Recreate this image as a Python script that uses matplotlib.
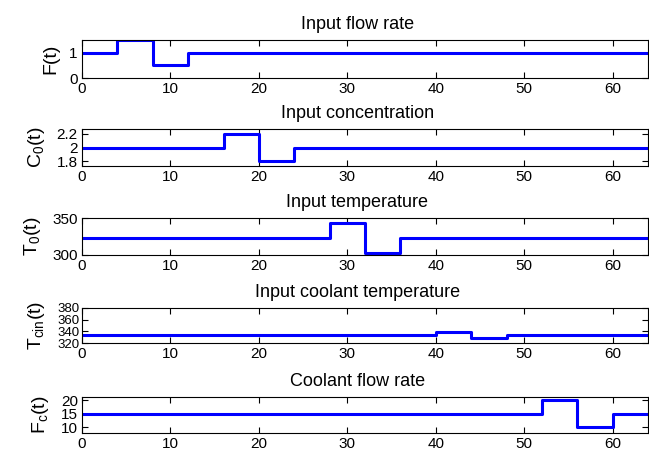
import matplotlib
matplotlib.use("Agg")
import matplotlib.pyplot as plt

plt.rcParams['font.family'] = ['Liberation Sans', 'DejaVu Sans']
plt.rcParams['mathtext.default'] = 'regular'

# step inputs: switching times and held values
t_F = [0, 4, 8, 12, 64]
v_F = [1, 1.5, 0.5, 1, 1]
t_C0 = [0, 16, 20, 24, 64]
v_C0 = [2, 2.2, 1.8, 2, 2]
t_T0 = [0, 28, 32, 36, 64]
v_T0 = [323, 343, 303, 323, 323]
t_Tcin = [0, 40, 44, 48, 64]
v_Tcin = [334, 339, 329, 334, 334]
t_Fc = [0, 52, 56, 60, 64]
v_Fc = [15, 20, 10, 15, 15]

titles = ['Input flow rate', 'Input concentration', 'Input temperature',
          'Input coolant temperature', 'Coolant flow rate']
ylabels = ['F(t)', 'C$_0$(t)', 'T$_0$(t)', 'T$_{cin}$(t)', 'F$_c$(t)']
yticks = [[0, 1], [1.8, 2, 2.2], [300, 350], [320, 340, 360, 380], [10, 15, 20]]
ylims = [(0, 1.5), (1.73, 2.27), (300, 350), (320, 380), (7.8, 21.3)]
xticks = [0, 10, 20, 30, 40, 50, 60]

series = [(t_F, v_F), (t_C0, v_C0), (t_T0, v_T0), (t_Tcin, v_Tcin), (t_Fc, v_Fc)]

W, H = 649, 453
fig = plt.figure(figsize=(W / 100, H / 100), dpi=100)

# axes boxes in pixels (top, bottom)
boxes = [(40, 78), (129, 166), (218, 255), (308, 343), (397, 433)]
left, right = 82, 648

for i, ((t, v), (top, bot)) in enumerate(zip(series, boxes)):
    ax = fig.add_axes([left / W, 1 - bot / H, (right - left) / W, (bot - top) / H])
    ax.step(t, v, where='post', color='#0000ff', linewidth=2.2)
    ax.set_xlim(0, 64)
    ax.set_ylim(*ylims[i])
    ax.set_xticks(xticks)
    ax.set_yticks(yticks[i])
    ax.set_yticklabels([f'{y:g}' for y in yticks[i]])
    ax.tick_params(direction='in', top=True, right=True, length=4, width=0.8,
                   labelsize=11, pad=3)
    if i == 3:
        # dense ticks: slightly smaller labels, they crowd in the original too
        ax.tick_params(axis='y', labelsize=9.5, pad=2)
    for s in ax.spines.values():
        s.set_linewidth(0.8)
    ax.set_title(titles[i], fontsize=13, x=0.486, pad=8)
    ax.set_ylabel(ylabels[i], fontsize=14, labelpad=7)

fig.savefig('out.png', dpi=100)
